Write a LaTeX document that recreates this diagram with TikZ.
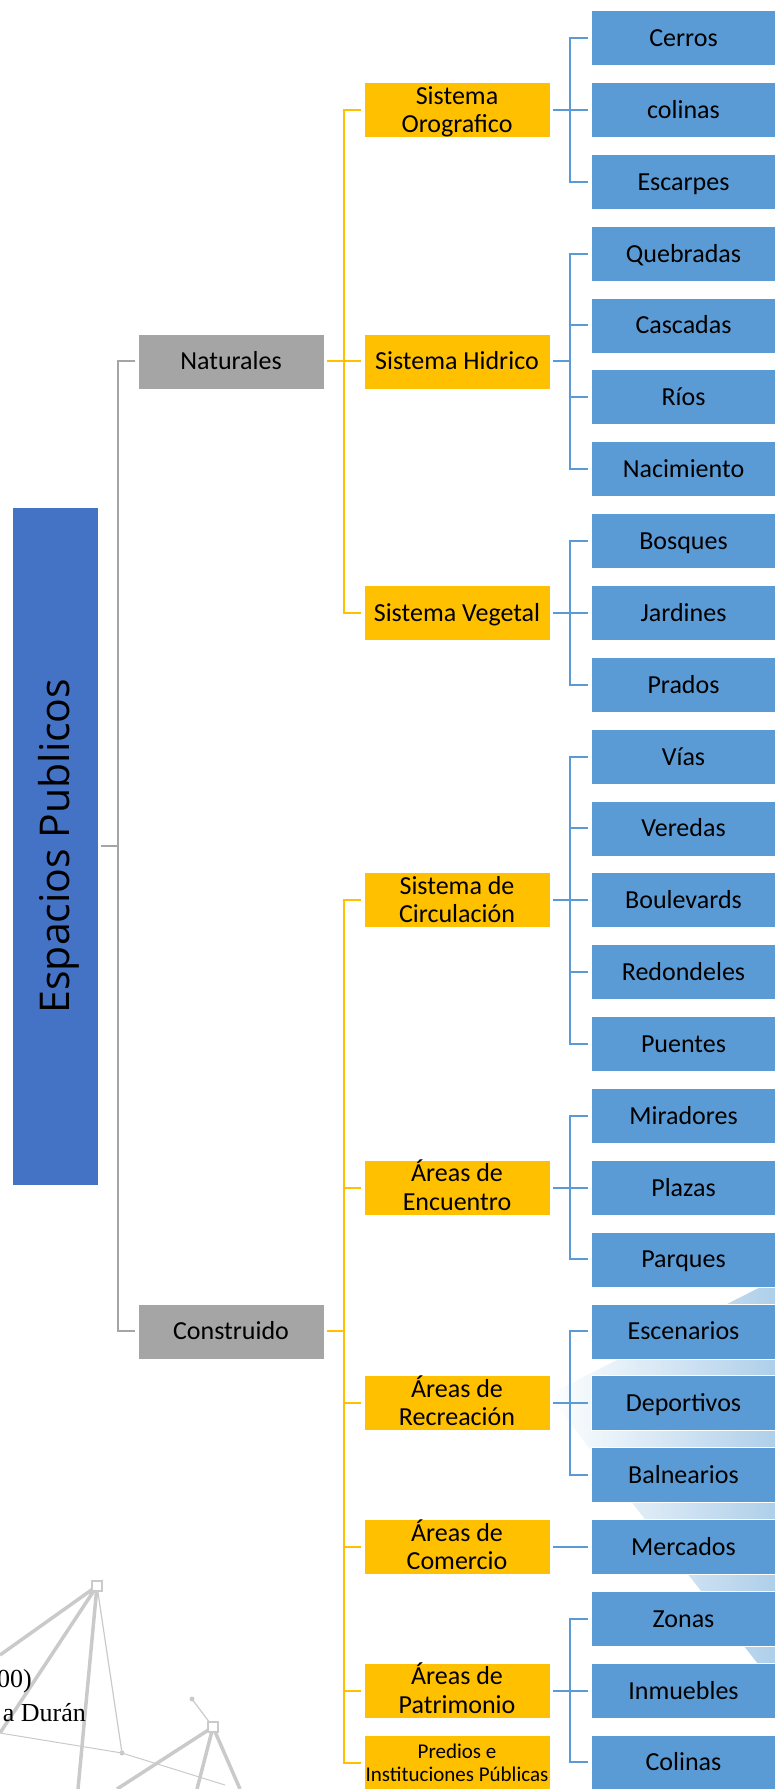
\documentclass[tikz,border=0pt]{standalone}
\usepackage{fontspec}
\setmainfont{Carlito}
\newfontfamily\titlefont{Open Sans}
\newfontfamily\docfont{Liberation Serif}
\definecolor{rootblue}{HTML}{4472C4}
\definecolor{boxgray}{HTML}{A5A5A5}
\definecolor{boxgold}{HTML}{FFC000}
\definecolor{leafblue}{HTML}{5B9BD5}
\definecolor{wmblue}{HTML}{A9CCE8}
\definecolor{wmgray}{HTML}{CACACA}

\begin{document}
\begin{tikzpicture}[x=1pt,y=-1pt,
		cell/.style={draw=white,line width=0.6pt,minimum width=186pt,minimum height=55pt,inner sep=0pt,text height=17pt,text depth=0pt,font=\fontsize{26}{28.5}\selectfont},
		twoline/.style={align=center,text height=45.5pt,text depth=0pt},
		catbox/.style={cell,fill=boxgray},
		sysbox/.style={cell,fill=boxgold},
		leaf/.style={cell,fill=leafblue,minimum width=185pt},
		glink/.style={draw=boxgray,line width=2pt},
		ylink/.style={draw=boxgold,line width=2pt},
		blink/.style={draw=leafblue,line width=2pt}]
		\useasboundingbox (0,0) rectangle (774,1789);
		% faint watermark behind the tree
		\shade[left color=white,right color=wmblue] (548,1395) -- (790,1272) -- (790,1705) -- cycle;
		\begin{scope}[draw=wmgray,line width=3.5pt]
			\draw (0,1655) -- (97,1586) -- (0,1733);
			\draw (97,1586) -- (78,1789);
			\draw (117,1789) -- (213,1727) -- (197,1789);
			\draw (213,1727) -- (240,1789);
			\draw[line width=1.2pt] (97,1586) -- (122,1753);
			\draw[line width=1.2pt] (192,1699) -- (213,1727);
			\draw[line width=1pt] (0,1733) -- (122,1753) -- (225,1785);
			\draw[line width=2pt,fill=white] (92,1581) rectangle (102,1591);
			\draw[line width=2pt,fill=white] (208,1722) rectangle (218,1732);
			\fill[wmgray] (192,1699) circle (2.5);
			\fill[wmgray] (122,1753) circle (2.5);
		\end{scope}
		\node[font=\docfont\fontsize{26}{26}\selectfont,anchor=base east,inner sep=0pt] (year) at (32,1687) {00)};
		\node[font=\docfont\fontsize{26}{26}\selectfont,anchor=base east,inner sep=0pt] (author) at (86,1721) {a Durán};
		% root
		\node[draw=white,fill=rootblue,rotate=90,minimum width=678pt,minimum height=86pt,inner sep=0pt,text height=29pt,text depth=0pt,font=\titlefont\fontsize{41}{41}\selectfont] (root) at (55,846) {Espacios Publicos};
		% second level
		\node[catbox] (nat) at (231,361.4) {Naturales};
		\node[catbox] (con) at (231,1331.3) {Construido};
		% third level
		\node[sysbox,twoline] (oro) at (457,110) {Sistema\\Orografico};
		\node[sysbox] (hid) at (457,361.3) {Sistema Hidrico};
		\node[sysbox] (veg) at (457,612.8) {Sistema Vegetal};
		\node[sysbox,twoline] (cir) at (457,900.2) {Sistema de\\Circulación};
		\node[sysbox,twoline] (enc) at (457,1187.6) {Áreas de\\Encuentro};
		\node[sysbox,twoline] (rec) at (457,1403.2) {Áreas de\\Recreación};
		\node[sysbox,twoline] (com) at (457,1546.9) {Áreas de\\Comercio};
		\node[sysbox,twoline] (pat) at (457,1690.6) {Áreas de\\Patrimonio};
		\node[sysbox,align=center,font=\fontsize{21}{23.5}\selectfont,text height=37pt,text depth=0pt] (pre) at (457,1763) {Predios e\\Instituciones Públicas};
		% leaves
		\foreach \txt [count=\i from 0] in {Cerros,colinas,Escarpes,Quebradas,Cascadas,Ríos,Nacimiento,Bosques,Jardines,Prados,Vías,Veredas,Boulevards,Redondeles,Puentes,Miradores,Plazas,Parques,Escenarios,Deportivos,Balnearios,Mercados,Zonas,Inmuebles,Colinas}
			\node[leaf] (h\i) at (683.5,{38+71.85*\i}) {\txt};
		% connectors
		\foreach \c in {nat,con}
			\draw[glink] ([xshift=3]root.south) -- ([xshift=20]root.south) |- ([xshift=-3]\c.west);
		\foreach \p/\c in {nat/oro,nat/hid,nat/veg,con/cir,con/enc,con/rec,con/com,con/pat,con/pre}
			\draw[ylink] ([xshift=3]\p.east) -- ([xshift=20]\p.east) |- ([xshift=-3]\c.west);
		\foreach \p/\a/\b in {oro/0/2,hid/3/6,veg/7/9,cir/10/14,enc/15/17,rec/18/20,com/21/21,pat/22/24}
			\foreach \i in {\a,...,\b}
				\draw[blink] ([xshift=3]\p.east) -- ([xshift=20]\p.east) |- ([xshift=-3]h\i.west);
\end{tikzpicture}
\end{document}
